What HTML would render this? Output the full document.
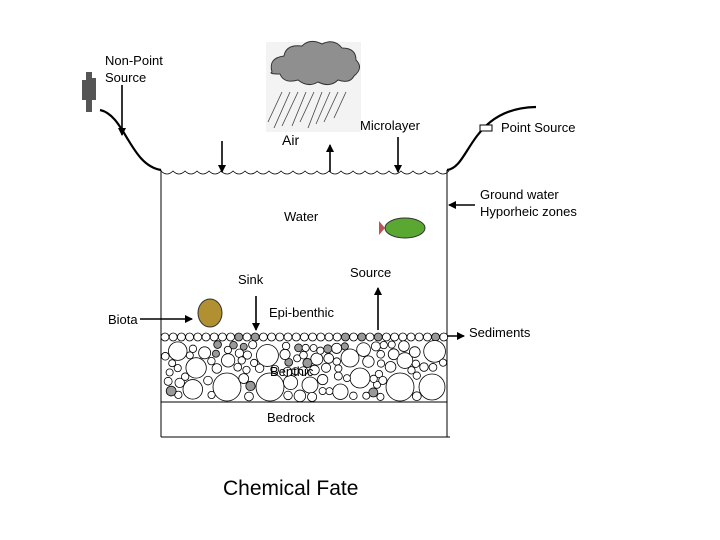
<!DOCTYPE html>
<html><head><meta charset="utf-8"><style>
html,body{margin:0;padding:0;background:#fff;}
svg{display:block;}
text{font-family:"Liberation Sans",sans-serif;font-size:13px;fill:#000;}
</style></head><body>
<svg id="s" width="720" height="540" viewBox="0 0 720 540" xmlns="http://www.w3.org/2000/svg">
<defs><marker id="a" markerWidth="8" markerHeight="8" refX="7" refY="4" orient="auto" markerUnits="userSpaceOnUse"><path d="M0,0 L8,4 L0,8 z" fill="#000"/></marker></defs>
<!-- cloud -->
<rect x="266" y="42" width="95" height="90" fill="#f3f3f3"/>
<path d="M272,72 q-4,-14 12,-16 q2,-12 18,-10 q8,-8 20,-2 q12,-6 20,4 q14,0 14,12 q8,8 -2,16 q-4,8 -16,4 q-8,8 -20,2 q-10,6 -20,-2 q-14,4 -18,-6 q-12,0 -8,-2z" fill="#8f8f8f" stroke="#333" stroke-width="1"/>
<g stroke="#444" stroke-width="0.8">
<line x1="282" y1="92" x2="268" y2="122"/><line x1="290" y1="92" x2="274" y2="128"/><line x1="298" y1="92" x2="282" y2="126"/><line x1="306" y1="92" x2="292" y2="126"/><line x1="314" y1="92" x2="300" y2="122"/><line x1="322" y1="92" x2="308" y2="128"/><line x1="330" y1="92" x2="316" y2="124"/><line x1="338" y1="92" x2="324" y2="122"/><line x1="346" y1="92" x2="334" y2="118"/>
</g>
<!-- plant -->
<g fill="#555"><rect x="86" y="72" width="6" height="40"/><rect x="82" y="80" width="4" height="20"/><rect x="92" y="78" width="4" height="22"/></g>
<!-- banks -->
<path d="M100,110 C125,115 130,165 161,170" fill="none" stroke="#000" stroke-width="2.2"/>
<path d="M447,170 C470,168 470,108 536,107" fill="none" stroke="#000" stroke-width="2.2"/>
<path id="w" fill="none" stroke="#000" stroke-width="0.8"/>
<!-- walls -->
<line x1="161" y1="170" x2="161" y2="437" stroke="#000"/>
<line x1="447" y1="170" x2="447" y2="437" stroke="#000"/>
<line x1="161" y1="402" x2="447" y2="402" stroke="#000"/>
<line x1="161" y1="437" x2="450" y2="437" stroke="#000"/>
<g id="c" fill="#fff" stroke="#000" stroke-width="0.8"></g>
<!-- point source pipe -->
<rect x="480" y="125" width="12" height="6" fill="#fff" stroke="#000"/>
<!-- fish -->
<ellipse cx="405" cy="228" rx="20" ry="10" fill="#5aa832" stroke="#333"/><path d="M385,228 l-6,-7 l0,14z" fill="#b55"/>
<ellipse cx="210" cy="313" rx="12" ry="14" fill="#b09030" stroke="#333"/>
<!-- arrows -->
<g stroke="#000" stroke-width="1.6" marker-end="url(#a)">
<line x1="122" y1="85" x2="122" y2="135"/>
<line x1="222" y1="141" x2="222" y2="172"/>
<line x1="330" y1="172" x2="330" y2="145"/>
<line x1="398" y1="137" x2="398" y2="172"/>
<line x1="475" y1="205" x2="449" y2="205"/>
<line x1="140" y1="319" x2="192" y2="319"/>
<line x1="256" y1="296" x2="256" y2="330"/>
<line x1="378" y1="330" x2="378" y2="288"/>
<line x1="447" y1="336" x2="464" y2="336"/>
</g>
<text x="105" y="65">Non-Point</text><text x="105" y="82">Source</text>
<text x="282" y="145" style="font-size:14px">Air</text>
<text x="360" y="130">Microlayer</text>
<text x="501" y="132">Point Source</text>
<text x="480" y="199">Ground water</text><text x="480" y="216">Hyporheic zones</text>
<text x="284" y="221">Water</text>
<text x="350" y="277">Source</text>
<text x="238" y="284">Sink</text>
<text x="108" y="324">Biota</text>
<text x="269" y="317">Epi-benthic</text>
<text x="469" y="337">Sediments</text>
<text x="270" y="376">Benthic</text>
<text x="267" y="422">Bedrock</text>
<text x="223" y="495" style="font-size:21px">Chemical Fate</text>
</svg>
<script>
var d="M161,171";for(var x=161;x<447;x+=12){d+=" q6,6 12,0";}
document.getElementById('w').setAttribute('d',d);
var g=document.getElementById('c'),seed=7;function r(){seed=(seed*16807)%2147483647;return seed/2147483647;}
var cs=[];function ok(x,y,R){if(x-R<161||x+R>447||y-R<332||y+R>402)return false;for(var i=0;i<cs.length;i++){var c=cs[i];var dx=c[0]-x,dy=c[1]-y;if(Math.sqrt(dx*dx+dy*dy)<c[2]+R-0.5)return false;}return true;}
[[227,387,14],[270,387,14],[310,385,8],[400,387,14],[432,387,13],[360,378,10],[350,358,9]].forEach(function(c){cs.push(c);});
for(var x=165;x<445;x+=8.2)cs.push([x,337,4]);
for(var k=0;k<6000;k++){var R=3.5+r()*r()*9;var x=161+r()*286,y=332+r()*70;if(ok(x,y,R))cs.push([x,y,R]);}
var ns="http://www.w3.org/2000/svg";cs.forEach(function(c,i){var e=document.createElementNS(ns,'circle');e.setAttribute('cx',c[0]);e.setAttribute('cy',c[1]);e.setAttribute('r',c[2]);if(c[2]<5&&r()<0.12)e.setAttribute('fill','#999');g.appendChild(e);});
</script>
</body></html>
